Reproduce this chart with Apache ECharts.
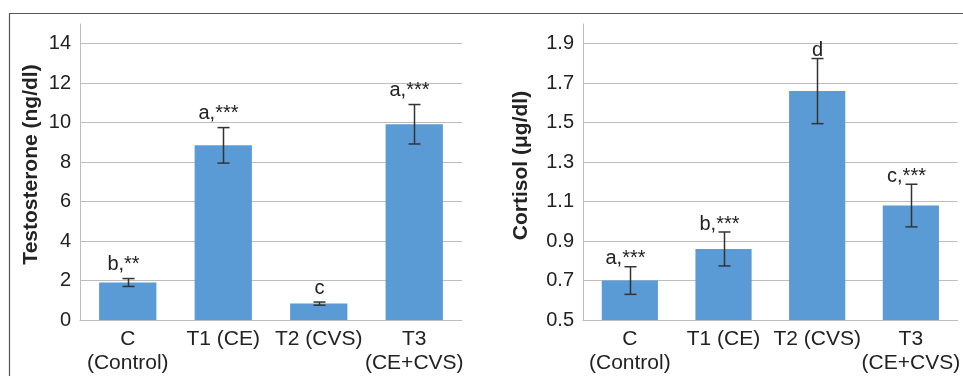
<!DOCTYPE html>
<html>
<head>
<meta charset="utf-8">
<script src="https://cdn.jsdelivr.net/npm/echarts@6/dist/echarts.min.js"></script>
<style>
html,body{margin:0;padding:0;background:#fff;}
#chart{width:963px;height:376px;}
</style>
</head>
<body>
<div id="chart"></div>
<script>
// ---- data ----
const categories = ['C\n(Control)', 'T1 (CE)', 'T2 (CVS)', 'T3\n(CE+CVS)'];
const testosterone = [1.90, 8.85, 0.83, 9.92];
const testosteroneErr = [0.20, 0.90, 0.08, 1.00];
const testosteroneSig = ['b,**', 'a,***', 'c', 'a,***'];
const cortisol = [0.70, 0.86, 1.66, 1.08];
const cortisolErr = [0.07, 0.086, 0.165, 0.108];
const cortisolSig = ['a,***', 'b,***', 'd', 'c,***'];
const testosteroneTitle = 'Testosterone (ng/dl)';
const cortisolTitle = 'Cortisol (\u03bcg/dl)';
const testosteroneRange = [0, 15, 2];
const cortisolRange = [0.5, 2.0, 0.2];

// ---- chart ----
const FONT = 'Arial, "Liberation Sans", sans-serif';
const TXT = '#222';
const chart = echarts.init(document.getElementById('chart'), null, {renderer: 'canvas'});

function errData(vals, errs) {
  return vals.map((v, i) => [i, v, errs[i]]);
}

function buildErr(api, i, sig, labelGap) {
  const v = api.value(1), e = api.value(2);
  const hi = api.coord([i, v + e]);
  const lo = api.coord([i, v - e]);
  const x = Math.round(hi[0]) + 0.5;
  const cap = 6;
  const ls = {stroke: '#333', lineWidth: 1.5};
  const dx = sig.length > 1 ? -5 : 0;
  return {
    type: 'group',
    children: [
      {type: 'line', shape: {x1: x, y1: hi[1], x2: x, y2: lo[1]}, style: ls},
      {type: 'line', shape: {x1: x - cap, y1: hi[1], x2: x + cap, y2: hi[1]}, style: ls},
      {type: 'line', shape: {x1: x - cap, y1: lo[1], x2: x + cap, y2: lo[1]}, style: ls},
      {type: 'text', x: x + dx, y: hi[1] - labelGap,
        style: {text: sig, textAlign: 'center', textVerticalAlign: 'bottom',
          font: '20px ' + FONT, fill: TXT}}
    ]
  };
}

function yAxisCfg(gridIndex, range, dec) {
  return {
    type: 'value', gridIndex: gridIndex,
    min: range[0], max: range[1], interval: range[2],
    axisLine: {show: true, lineStyle: {color: '#bdbdbd', width: 1}},
    axisTick: {show: false},
    splitLine: {show: true, showMaxLine: false, lineStyle: {color: '#bdbdbd', width: 1}},
    axisLabel: {
      showMaxLabel: false, margin: 9, color: TXT, fontSize: 20, fontFamily: FONT,
      formatter: v => dec ? v.toFixed(1) : String(Math.round(v))
    }
  };
}
function xAxisCfg(gridIndex) {
  return {
    type: 'category', gridIndex: gridIndex, data: categories,
    axisLine: {show: true, lineStyle: {color: '#bdbdbd', width: 1}},
    axisTick: {show: false},
    axisLabel: {interval: 0, margin: 7, color: TXT, fontSize: 21, fontFamily: FONT, lineHeight: 24}
  };
}

chart.setOption({
  animation: false,
  grid: [
    {left: 80, top: 24, width: 382, height: 296},
    {left: 583, top: 24, width: 376, height: 296}
  ],
  xAxis: [xAxisCfg(0), xAxisCfg(1)],
  yAxis: [yAxisCfg(0, testosteroneRange, false), yAxisCfg(1, cortisolRange, true)],
  series: [
    {type: 'bar', xAxisIndex: 0, yAxisIndex: 0, data: testosterone, barWidth: '60%',
      itemStyle: {color: '#5B9BD5'}},
    {type: 'custom', xAxisIndex: 0, yAxisIndex: 0, z: 5,
      data: errData(testosterone, testosteroneErr),
      renderItem: function (params, api) {
        const i = api.value(0);
        return buildErr(api, i, testosteroneSig[i], 4);
      }},
    {type: 'bar', xAxisIndex: 1, yAxisIndex: 1, data: cortisol, barWidth: '60%',
      itemStyle: {color: '#5B9BD5'}},
    {type: 'custom', xAxisIndex: 1, yAxisIndex: 1, z: 5,
      data: errData(cortisol, cortisolErr),
      renderItem: function (params, api) {
        const i = api.value(0);
        return buildErr(api, i, cortisolSig[i], -2);
      }}
  ],
  graphic: [
    {type: 'line', shape: {x1: 9, y1: 13.5, x2: 963, y2: 13.5}, style: {stroke: '#555', lineWidth: 1.2}},
    {type: 'line', shape: {x1: 9.5, y1: 13, x2: 9.5, y2: 376}, style: {stroke: '#555', lineWidth: 1.2}},
    {type: 'text', x: 31, y: 164.5, rotation: Math.PI / 2,
      style: {text: testosteroneTitle, textAlign: 'center', textVerticalAlign: 'middle',
        font: 'bold 21px ' + FONT, fill: TXT}},
    {type: 'text', x: 521, y: 165.5, rotation: Math.PI / 2,
      style: {text: cortisolTitle, textAlign: 'center', textVerticalAlign: 'middle',
        font: 'bold 21px ' + FONT, fill: TXT}}
  ]
});
</script>
</body>
</html>
